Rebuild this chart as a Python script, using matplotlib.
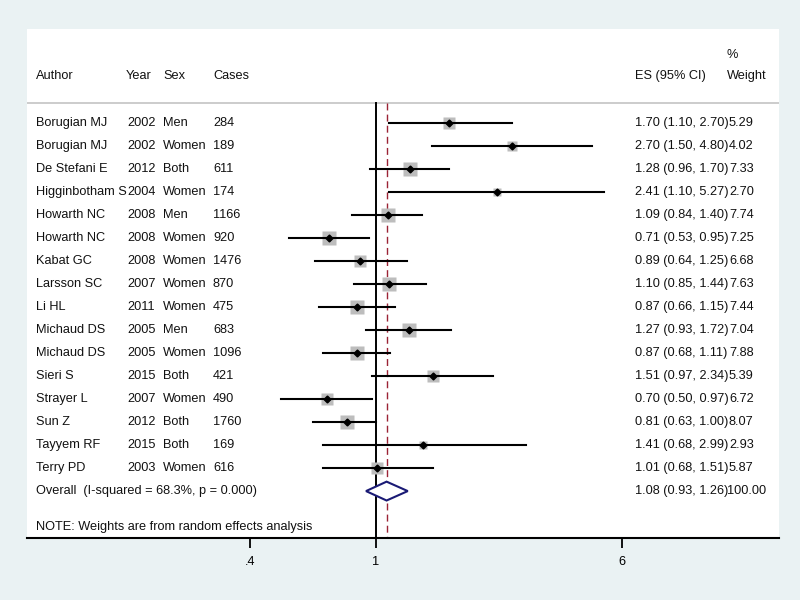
import numpy as np
import matplotlib
matplotlib.use('Agg')
import matplotlib.pyplot as plt
from matplotlib.transforms import blended_transform_factory

# Study data
authors = ['Borugian MJ', 'Borugian MJ', 'De Stefani E', 'Higginbotham S',
           'Howarth NC', 'Howarth NC', 'Kabat GC', 'Larsson SC', 'Li HL',
           'Michaud DS', 'Michaud DS', 'Sieri S', 'Strayer L', 'Sun Z',
           'Tayyem RF', 'Terry PD']
years = ['2002', '2002', '2012', '2004', '2008', '2008', '2008', '2007',
         '2011', '2005', '2005', '2015', '2007', '2012', '2015', '2003']
sexes = ['Men', 'Women', 'Both', 'Women', 'Men', 'Women', 'Women', 'Women',
         'Women', 'Men', 'Women', 'Both', 'Women', 'Both', 'Both', 'Women']
cases = ['284', '189', '611', '174', '1166', '920', '1476', '870', '475',
         '683', '1096', '421', '490', '1760', '169', '616']
es = [1.70, 2.70, 1.28, 2.41, 1.09, 0.71, 0.89, 1.10, 0.87, 1.27, 0.87,
      1.51, 0.70, 0.81, 1.41, 1.01]
lo = [1.10, 1.50, 0.96, 1.10, 0.84, 0.53, 0.64, 0.85, 0.66, 0.93, 0.68,
      0.97, 0.50, 0.63, 0.68, 0.68]
hi = [2.70, 4.80, 1.70, 5.27, 1.40, 0.95, 1.25, 1.44, 1.15, 1.72, 1.11,
      2.34, 0.97, 1.00, 2.99, 1.51]
weights = [5.29, 4.02, 7.33, 2.70, 7.74, 7.25, 6.68, 7.63, 7.44, 7.04,
           7.88, 5.39, 6.72, 8.07, 2.93, 5.87]

overall_label = 'Overall  (I-squared = 68.3%, p = 0.000)'
overall_es, overall_lo, overall_hi, overall_w = 1.08, 0.93, 1.26, 100.00
note = 'NOTE: Weights are from random effects analysis'

xticks = [0.4, 1, 6]
xticklabels = ['.4', '1', '6']

BG = '#eaf2f3'
FONT = 'Liberation Sans'
FS = 9.2

fig = plt.figure(figsize=(8, 6), dpi=100, facecolor=BG)
# white plot panel: x 27..779 px, y 29..538 px
ax = fig.add_axes([27 / 800, 62 / 600, 752 / 800, 509 / 600])
ax.set_facecolor('white')
ax.set_xscale('log')
ax.set_xlim(np.exp((27 - 376) / 137.4), np.exp((779 - 376) / 137.4))
ax.set_ylim(18.04, -4.09)

n = len(authors)
rows = np.arange(n)
overall_row = n

# columns placed in axes fraction
def px(x):
    return (x - 27) / 752

tr = blended_transform_factory(ax.transAxes, ax.transData)

def txt(x, y, s):
    ax.text(px(x), y, s, transform=tr, fontsize=FS, family=FONT,
            va='center', ha='left', color='#111111')

# header
hdr_y = -2.04
for x, t in [(36, 'Author'), (126, 'Year'), (163, 'Sex'), (213, 'Cases'),
             (635, 'ES (95% CI)'), (727, 'Weight')]:
    txt(x, hdr_y, t)
txt(727, -2.96, '%')
ax.axhline(-0.87, color='#c8c8c8', lw=1.3)

# study rows
for i in range(n):
    y = rows[i]
    txt(36, y, authors[i])
    txt(127, y, years[i])
    txt(163, y, sexes[i])
    txt(213, y, cases[i])
    txt(635, y, '%.2f (%.2f, %.2f)' % (es[i], lo[i], hi[i]))
    txt(729, y, '%.2f' % weights[i])

# reference lines
ax.plot([1, 1], [-0.87, 18.04], color='black', lw=1.4, zorder=2)
ax.plot([overall_es, overall_es], [-0.87, 18.04], color='#9b2335', lw=1.0,
        ls=(0, (5, 3)), zorder=2)

# boxes, CIs and points
for i in range(n):
    side = 5.0 * np.sqrt(weights[i]) / (100 / 72)
    ax.plot(es[i], rows[i], marker='s', ms=side, color='#bdbdbd', mec='none', zorder=3)
    ax.plot([lo[i], hi[i]], [rows[i], rows[i]], color='black', lw=1.5, zorder=4)
    ax.plot(es[i], rows[i], marker='D', ms=3.5, color='black', zorder=5)

# overall
txt(36, overall_row, overall_label)
txt(635, overall_row, '%.2f (%.2f, %.2f)' % (overall_es, overall_lo, overall_hi))
txt(727, overall_row, '%.2f' % overall_w)
h = 0.41
ax.fill([overall_lo, overall_es, overall_hi, overall_es, overall_lo],
        [overall_row, overall_row - h, overall_row, overall_row + h, overall_row],
        facecolor='white', edgecolor='#1a1a75', lw=1.5, zorder=6)

txt(36, 17.57, note)

# axes styling
for s in ['top', 'left', 'right']:
    ax.spines[s].set_visible(False)
ax.spines['bottom'].set_linewidth(1.5)
ax.set_yticks([])
ax.set_xticks(xticks)
ax.set_xticklabels(xticklabels, fontsize=FS, family=FONT)
ax.minorticks_off()
ax.tick_params(axis='x', direction='out', length=7, width=1.3, pad=6)

fig.savefig('out.png', dpi=100, facecolor=BG)
